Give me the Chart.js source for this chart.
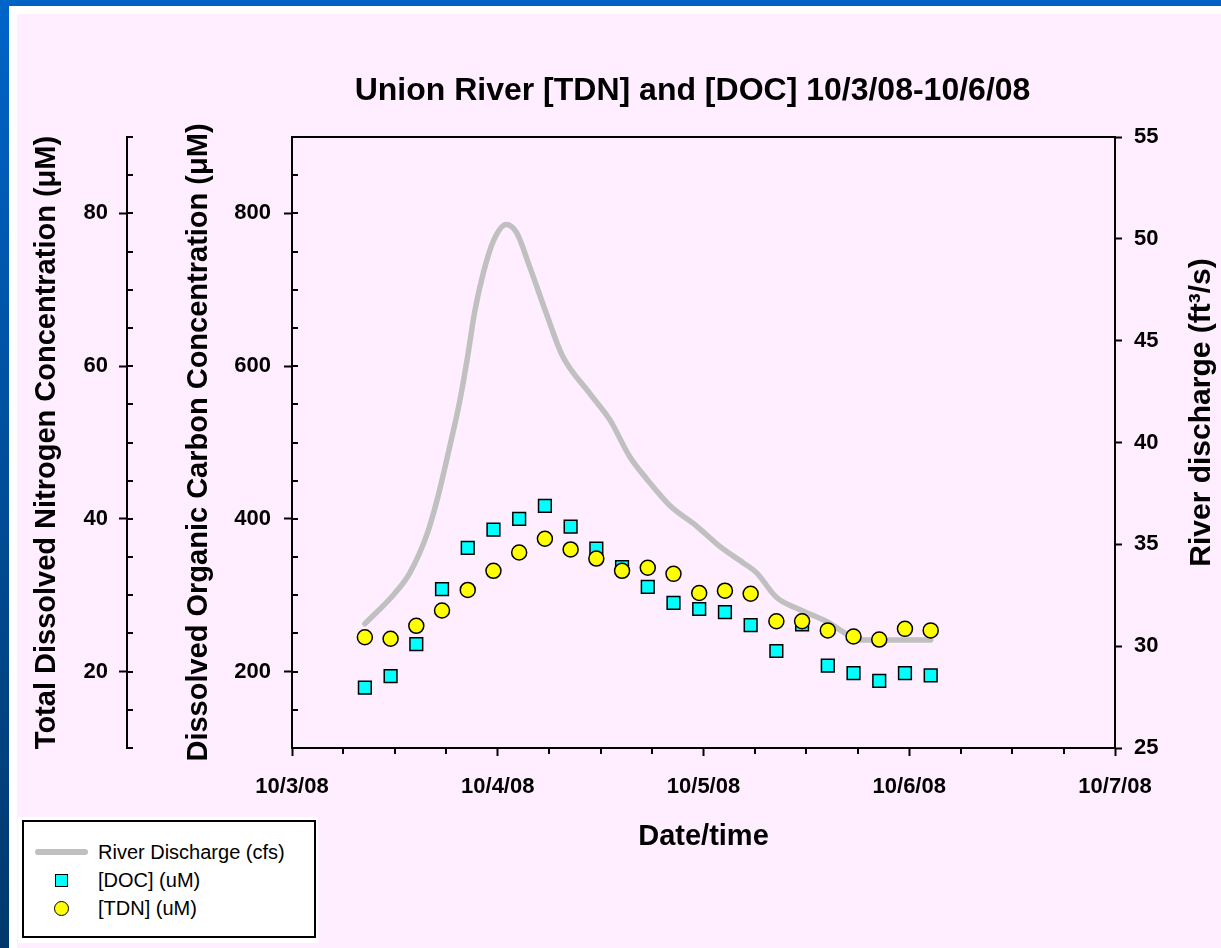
<!DOCTYPE html>
<html>
<head>
<meta charset="utf-8">
<script src="https://cdn.jsdelivr.net/npm/chart.js@4.4.1/dist/chart.umd.min.js"></script>
<style>
  html, body { margin: 0; padding: 0; }
  body { width: 1221px; height: 948px; position: relative; overflow: hidden; background: #fff; font-family: Arial, "Liberation Sans", sans-serif; }
  #blueTop { position: absolute; left: 0; top: 0; width: 1221px; height: 6px; background: #0062c4; }
  #blueLeft { position: absolute; left: 0; top: 0; width: 9px; height: 948px; background: linear-gradient(#0064c8, #00386c); }
  #pink { position: absolute; left: 17px; top: 14px; right: 0; bottom: 0; background: #ffeeff; }
  #chart { position: absolute; left: 0; top: 0; }
  #legend { position: absolute; left: 18px; top: 817px; width: 300px; height: 126px; background: #fff; box-sizing: border-box; padding: 3px 2px 5px 4px; }
  #legend .box { border: 2px solid #000; height: 100%; box-sizing: border-box; padding-top: 16px; }
  #legend .row { height: 28px; display: flex; align-items: center; font-size: 20px; color: #000; }
  #legend .sw { width: 53px; margin-left: 11px; margin-right: 10px; display: flex; justify-content: center; align-items: center; }
</style>
</head>
<body>
<div id="blueTop"></div>
<div id="blueLeft"></div>
<div id="pink"></div>
<canvas id="chart" width="1221" height="948"></canvas>
<div id="legend"><div class="box"></div></div>
<script>
// hours since 10/3/08 00:00
const xTickHours = [0, 24, 48, 72, 96];
const xTickLabels = ['10/3/08', '10/4/08', '10/5/08', '10/6/08', '10/7/08'];

const sampleHours = [8.5, 11.5, 14.5, 17.5, 20.5, 23.5, 26.5, 29.5, 32.5, 35.5, 38.5, 41.5,
  44.5, 47.5, 50.5, 53.5, 56.5, 59.5, 62.5, 65.5, 68.5, 71.5, 74.5];
const docValues = [179, 194, 236, 308, 362, 386, 400, 417, 390, 361, 337, 311,
  290, 282, 278, 261, 227, 262, 208, 198, 188, 198, 195];
const tdnValues = [24.5, 24.3, 26.0, 28.0, 30.7, 33.2, 35.6, 37.4, 36.0, 34.8, 33.2, 33.6,
  32.8, 30.3, 30.6, 30.2, 26.6, 26.6, 25.4, 24.6, 24.2, 25.6, 25.4];

const dischargeHours = [8.5, 12, 13.75, 15.75, 17, 18.4, 19.6, 20.4, 21.35, 22.3, 23.5, 25, 26.2,
  27.75, 29.7, 31.5, 34.75, 37.1, 39.4, 41.4, 44.1, 47.2, 49.9, 52.6, 54.2,
  56.5, 59.2, 62.4, 64.7, 66.3, 70, 74.5];
const dischargeValues = [31.1, 32.6, 33.6, 35.5, 37.3, 39.8, 42.1, 44.0, 46.5, 48.3, 49.9, 50.7, 50.3,
  48.6, 46.3, 44.3, 42.4, 41.1, 39.3, 38.2, 36.9, 35.9, 34.9, 34.1, 33.6,
  32.4, 31.8, 31.2, 30.6, 30.3, 30.3, 30.3];

const docMajor = [200, 400, 600, 800];
const tdnMajor = [20, 40, 60, 80];

const FONT = 'Arial, "Liberation Sans", sans-serif';
const tickFont = { family: FONT, size: 22, weight: 'bold' };
const titleFont = { family: FONT, size: 29, weight: 'bold' };

// minor ticks + frame + titles that chart.js can't place the same way
const decor = {
  id: 'decor',
  afterDraw(chart) {
    const { ctx, chartArea: a, scales } = chart;
    ctx.save();
    ctx.strokeStyle = '#000';
    ctx.lineWidth = 2;
    ctx.beginPath(); ctx.moveTo(a.left - 1, a.top); ctx.lineTo(a.right + 1, a.top); ctx.stroke();

    const hTick = (scale, x0, len, step) => {
      for (let v = scale.min; v <= scale.max + 1e-9; v += step) {
        const y = Math.round(scale.getPixelForValue(v));
        ctx.beginPath(); ctx.moveTo(x0, y); ctx.lineTo(x0 + len, y); ctx.stroke();
      }
    };
    hTick(scales.yDOC, a.left, 6, 50);
    hTick(scales.yTDN, scales.yTDN.right, 6, 5);
    for (let h = 6; h < 96; h += 6) {
      if (h % 24 === 0) continue;
      const x = Math.round(scales.x.getPixelForValue(h));
      ctx.beginPath(); ctx.moveTo(x, a.bottom); ctx.lineTo(x, a.bottom + 6); ctx.stroke();
    }

    ctx.fillStyle = '#000';
    ctx.textAlign = 'center';
    ctx.textBaseline = 'middle';
    ctx.font = 'bold 32px ' + FONT;
    ctx.fillText('Union River [TDN] and [DOC] 10/3/08-10/6/08', (a.left + a.right) / 2 - 11, 91);

    ctx.translate(scales.yQ.right - 19, (a.top + a.bottom) / 2 - 30);
    ctx.rotate(-Math.PI / 2);
    ctx.font = 'bold 30px ' + FONT;
    ctx.fillText('River discharge (ft\u00b3/s)', 0, 0);
    ctx.restore();
  }
};

const grid = { drawOnChartArea: false, drawTicks: true, tickLength: 8, tickColor: '#000', tickWidth: 2 };
const border = { color: '#000', width: 2 };

const chart = new Chart(document.getElementById('chart'), {
  type: 'scatter',
  data: {
    datasets: [
      {
        type: 'line', label: 'River Discharge (cfs)', yAxisID: 'yQ',
        data: dischargeHours.map((h, i) => ({ x: h, y: dischargeValues[i] })),
        borderColor: '#c0c0c0', borderWidth: 5.5, borderCapStyle: 'round', borderJoinStyle: 'round',
        pointRadius: 0, cubicInterpolationMode: 'monotone', order: 3
      },
      {
        label: '[DOC] (uM)', yAxisID: 'yDOC',
        data: sampleHours.map((h, i) => ({ x: h, y: docValues[i] })),
        pointStyle: 'rect', pointRadius: 9, backgroundColor: '#00ffff', borderColor: '#000', borderWidth: 1.5, order: 2
      },
      {
        label: '[TDN] (uM)', yAxisID: 'yTDN',
        data: sampleHours.map((h, i) => ({ x: h, y: tdnValues[i] })),
        pointStyle: 'circle', pointRadius: 7.5, backgroundColor: '#ffff00', borderColor: '#000', borderWidth: 1.5, order: 1
      }
    ]
  },
  options: {
    responsive: false,
    animation: false,
    layout: { padding: { top: 137, left: 0, right: 0, bottom: 0 } },
    plugins: { legend: { display: false }, tooltip: { enabled: false }, title: { display: false } },
    scales: {
      x: {
        type: 'linear', position: 'bottom', min: 0, max: 96,
        afterBuildTicks: s => { s.ticks = xTickHours.map(v => ({ value: v })); },
        afterFit: s => { s.height = 200; },
        ticks: { callback: (v, i) => xTickLabels[i], color: '#000', font: tickFont, padding: 18, maxRotation: 0, autoSkip: false },
        grid, border,
        title: { display: true, text: 'Date/time', color: '#000', font: titleFont, padding: { top: 0, bottom: 94 } }
      },
      yDOC: {
        type: 'linear', position: 'left', weight: 0, min: 100, max: 900,
        afterBuildTicks: s => { s.ticks = docMajor.map(v => ({ value: v })); },
        afterFit: s => { s.width = 165; },
        ticks: { color: '#000', font: tickFont, padding: 13 },
        grid, border,
        title: { display: true, text: 'Dissolved Organic Carbon Concentration (\u03bcM)', color: '#000', font: titleFont, padding: { top: 55 } }
      },
      yTDN: {
        type: 'linear', position: 'left', weight: 1, min: 10, max: 90,
        afterBuildTicks: s => { s.ticks = tdnMajor.map(v => ({ value: v })); },
        afterFit: s => { s.width = 127; },
        ticks: { color: '#000', font: tickFont, padding: 11 },
        grid, border,
        title: { display: true, text: 'Total Dissolved Nitrogen Concentration (\u03bcM)', color: '#000', font: titleFont, padding: { top: 30 } }
      },
      yQ: {
        type: 'linear', position: 'right', min: 25, max: 55,
        ticks: { stepSize: 5, color: '#000', font: tickFont, padding: 12 },
        afterFit: s => { s.width = 106; },
        grid: { ...grid, tickLength: 7 }, border
      }
    }
  },
  plugins: [decor]
});

// legend box built from the datasets
const box = document.querySelector('#legend .box');
chart.data.datasets.forEach(ds => {
  const row = document.createElement('div');
  row.className = 'row';
  const sw = document.createElement('span');
  sw.className = 'sw';
  const mark = document.createElement('span');
  if (ds.type === 'line') {
    mark.style.cssText = `width:53px;height:${ds.borderWidth}px;border-radius:3px;background:${ds.borderColor}`;
  } else {
    const size = ds.pointStyle === 'rect' ? 13 : 15;
    mark.style.cssText = `width:${size}px;height:${size}px;box-sizing:border-box;background:${ds.backgroundColor};` +
      `border:${ds.borderWidth}px solid ${ds.borderColor};border-radius:${ds.pointStyle === 'circle' ? '50%' : '0'}`;
  }
  sw.appendChild(mark);
  row.appendChild(sw);
  row.appendChild(document.createTextNode(ds.label));
  box.appendChild(row);
});
</script>
</body>
</html>
